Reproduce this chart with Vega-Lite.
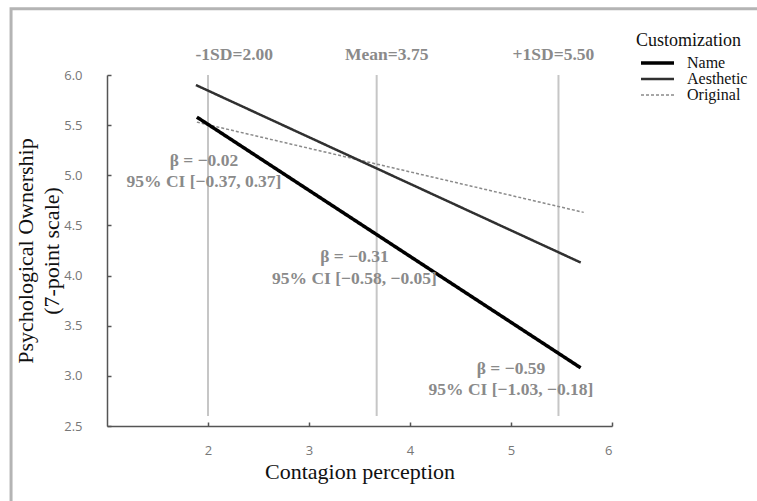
{
  "$schema": "https://vega.github.io/schema/vega-lite/v6.json",
  "width": 505,
  "height": 351,
  "autosize": {"type": "none"},
  "padding": {"left": 107, "top": 75, "right": 145, "bottom": 75},
  "background": "#ffffff",
  "config": {
    "view": {"stroke": null},
    "axis": {
      "labelFont": "Open Sans",
      "labelFontSize": 13,
      "labelColor": "#777777",
      "titleFont": "Liberation Serif",
      "titleFontSize": 22,
      "titleFontWeight": "normal",
      "titleColor": "#111111",
      "domainColor": "#555555",
      "domainWidth": 1.5,
      "tickColor": "#555555",
      "tickWidth": 1.5,
      "ticks": true,
      "grid": false
    },
    "legend": {
      "titleFont": "Liberation Serif",
      "titleFontSize": 18,
      "titleFontWeight": "normal",
      "titleColor": "#111111",
      "labelFont": "Liberation Serif",
      "labelFontSize": 16,
      "labelColor": "#111111"
    }
  },
  "datasets": {
    "frame": [{"x": 0.05, "x2": 8, "y": 6.66, "y2": 1.5}],
    "refs": [
      {"x": 2.0, "ylo": 2.6, "yhi": 6.0},
      {"x": 3.67, "ylo": 2.6, "yhi": 6.0},
      {"x": 5.47, "ylo": 2.6, "yhi": 6.0}
    ],
    "lines": [
      {"series": "Original", "x": 1.89, "y": 5.53},
      {"series": "Original", "x": 5.72, "y": 4.63},
      {"series": "Aesthetic", "x": 1.88, "y": 5.9},
      {"series": "Aesthetic", "x": 5.69, "y": 4.13},
      {"series": "Name", "x": 1.89, "y": 5.58},
      {"series": "Name", "x": 5.69, "y": 3.08}
    ],
    "headers": [
      {"label": "-1SD=2.00", "x": 2.26, "y": 6.2},
      {"label": "Mean=3.75", "x": 3.77, "y": 6.2},
      {"label": "+1SD=5.50", "x": 5.42, "y": 6.2}
    ],
    "notes": [
      {"label": "β = −0.02", "x": 1.96, "y": 5.14},
      {"label": "95% CI [−0.37, 0.37]", "x": 1.96, "y": 4.93},
      {"label": "β = −0.31", "x": 3.45, "y": 4.19},
      {"label": "95% CI [−0.58, −0.05]", "x": 3.45, "y": 3.97},
      {"label": "β = −0.59", "x": 5.0, "y": 3.07},
      {"label": "95% CI [−1.03, −0.18]", "x": 5.0, "y": 2.86}
    ]
  },
  "layer": [
    {
      "data": {"name": "frame"},
      "mark": {"type": "rect", "fill": null, "fillOpacity": 0, "stroke": "#b4b4b4", "strokeWidth": 3},
      "encoding": {
        "x": {"field": "x", "type": "quantitative", "scale": {"domain": [1, 6], "nice": false, "zero": false},
          "axis": {"values": [2, 3, 4, 5, 6], "format": "d", "title": "Contagion perception", "tickSize": -4, "labelPadding": 22, "titlePadding": 4}},
        "x2": {"field": "x2"},
        "y": {"field": "y", "type": "quantitative", "scale": {"domain": [2.5, 6], "nice": false, "zero": false},
          "axis": {"values": [2.5, 3, 3.5, 4, 4.5, 5, 5.5, 6], "format": ".1f", "title": ["Psychological Ownership", "(7-point scale)"], "titleLineHeight": 26, "tickSize": -4, "labelPadding": 29, "titlePadding": 0}},
        "y2": {"field": "y2"}
      }
    },
    {
      "data": {"name": "refs"},
      "mark": {"type": "rule", "color": "#c6c6c6", "strokeWidth": 2},
      "encoding": {
        "x": {"field": "x", "type": "quantitative"},
        "y": {"field": "ylo", "type": "quantitative"},
        "y2": {"field": "yhi"}
      }
    },
    {
      "data": {"name": "lines"},
      "mark": {"type": "line"},
      "encoding": {
        "x": {"field": "x", "type": "quantitative"},
        "y": {"field": "y", "type": "quantitative"},
        "detail": {"field": "series"},
        "color": {"field": "series", "type": "nominal", "title": "Customization",
          "scale": {"domain": ["Name", "Aesthetic", "Original"], "range": ["#000000", "#303030", "#8a8a8a"]},
          "legend": {"orient": "none", "legendX": 529, "legendY": -43, "symbolType": "M-0.625,0H3.5", "symbolSize": 256, "labelOffset": 31, "clipHeight": 16, "rowPadding": 0, "titlePadding": 5, "padding": 0}},
        "strokeWidth": {"field": "series", "type": "nominal", "title": "Customization",
          "scale": {"domain": ["Name", "Aesthetic", "Original"], "range": [3.5, 1.5, 1.4]}},
        "strokeDash": {"field": "series", "type": "nominal", "title": "Customization",
          "scale": {"domain": ["Name", "Aesthetic", "Original"], "range": [[1, 0], [1, 0], [3, 2]]}},
        "order": {"field": "x", "type": "quantitative"}
      }
    },
    {
      "data": {"name": "headers"},
      "mark": {"type": "text", "font": "Liberation Serif", "fontWeight": "bold", "fontSize": 17.5, "color": "#8a8a8a", "align": "center", "baseline": "middle"},
      "encoding": {
        "x": {"field": "x", "type": "quantitative"},
        "y": {"field": "y", "type": "quantitative"},
        "text": {"field": "label"}
      }
    },
    {
      "data": {"name": "notes"},
      "mark": {"type": "text", "font": "Liberation Serif", "fontWeight": "bold", "fontSize": 17.5, "color": "#8a8a8a", "align": "center", "baseline": "middle"},
      "encoding": {
        "x": {"field": "x", "type": "quantitative"},
        "y": {"field": "y", "type": "quantitative"},
        "text": {"field": "label"}
      }
    }
  ]
}
